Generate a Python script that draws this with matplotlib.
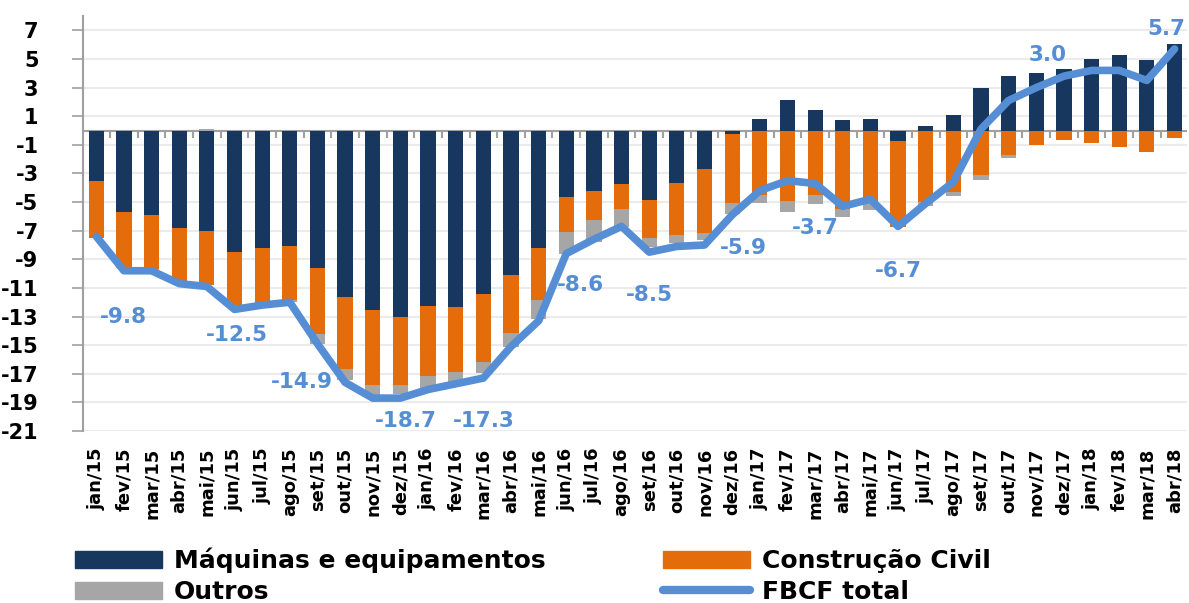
import numpy as np
import matplotlib
matplotlib.use("Agg")
import matplotlib.pyplot as plt
from matplotlib.patches import Patch
from matplotlib.lines import Line2D

meses = ["jan/15", "fev/15", "mar/15", "abr/15", "mai/15", "jun/15", "jul/15", "ago/15",
         "set/15", "out/15", "nov/15", "dez/15", "jan/16", "fev/16", "mar/16", "abr/16",
         "mai/16", "jun/16", "jul/16", "ago/16", "set/16", "out/16", "nov/16", "dez/16",
         "jan/17", "fev/17", "mar/17", "abr/17", "mai/17", "jun/17", "jul/17", "ago/17",
         "set/17", "out/17", "nov/17", "dez/17", "jan/18", "fev/18", "mar/18", "abr/18"]

maquinas = [-3.55, -5.69, -5.92, -6.80, -7.02, -8.48, -8.20, -8.09, -9.60, -11.60,
            -12.55, -13.00, -12.25, -12.30, -11.39, -10.10, -8.20, -4.64, -4.22, -3.71,
            -4.87, -3.66, -2.66, -0.22, 0.78, 2.10, 1.40, 0.76, 0.78, -0.73,
            0.29, 1.06, 2.97, 3.78, 4.04, 4.32, 5.02, 5.30, 4.90, 6.02]

construcao = [-3.93, -3.84, -3.73, -3.78, -3.78, -3.72, -3.78, -3.77, -4.65, -5.10,
              -5.25, -4.78, -4.92, -4.56, -4.78, -4.04, -3.66, -2.44, -2.00, -1.74,
              -2.61, -3.66, -4.49, -4.88, -4.52, -4.92, -4.48, -5.45, -4.99, -6.01,
              -4.99, -4.29, -3.13, -1.73, -1.04, -0.64, -0.87, -1.15, -1.50, -0.50]

outros = [0.0, -0.10, -0.10, -0.10, 0.10, -0.10, -0.10, -0.10, -0.65, -0.75,
          -0.70, -0.62, -0.83, -0.80, -0.81, -0.96, -1.28, -1.52, -1.56, -1.29,
          -0.65, -0.53, -0.47, -0.70, -0.54, -0.77, -0.67, -0.59, -0.58, 0.0,
          -0.30, -0.31, -0.35, -0.17, 0.0, 0.0, 0.0, 0.0, 0.0, 0.0]

fbcf = [-7.4, -9.8, -9.8, -10.7, -10.9, -12.5, -12.2, -12.0, -14.9, -17.6,
        -18.7, -18.7, -18.1, -17.7, -17.3, -15.1, -13.3, -8.6, -7.6, -6.7,
        -8.5, -8.1, -8.0, -5.9, -4.2, -3.5, -3.7, -5.3, -4.8, -6.7,
        -5.1, -3.6, 0.1, 2.1, 3.0, 3.8, 4.2, 4.2, 3.5, 5.7]

# months with a value label on the line
rotulo_idx = [1, 5, 8, 11, 14, 17, 20, 23, 26, 29, 34, 39]
rotulo_dx = [0.0, 0.1, -0.55, 0.2, 0.0, 0.5, 0.0, 0.4, 0.0, 0.0, 0.4, -0.3]
rotulo_dy = [-3.2, -1.8, -2.7, -1.6, -3.0, -2.2, -3.0, -2.3, -3.1, -3.1, 2.25, 1.4]

c_maq = "#17375E"
c_con = "#E46C0A"
c_out = "#A6A6A6"
c_lin = "#558ED5"

x = np.arange(len(meses))

fig = plt.figure(figsize=(11.89, 6.03), dpi=100)
ax = fig.add_axes([0.0698, 0.2852, 0.9285, 0.6882])

# stack positives and negatives separately
pos = np.zeros(len(x))
neg = np.zeros(len(x))
for serie, cor in [(maquinas, c_maq), (construcao, c_con), (outros, c_out)]:
    v = np.array(serie)
    base = np.where(v >= 0, pos, neg)
    ax.bar(x, v, bottom=base, width=0.55, color=cor, zorder=2)
    pos = pos + np.where(v >= 0, v, 0)
    neg = neg + np.where(v < 0, v, 0)

ax.plot(x, fbcf, color=c_lin, lw=5.5, solid_joinstyle="round", solid_capstyle="round", zorder=3)

for i, dx, dy in zip(rotulo_idx, rotulo_dx, rotulo_dy):
    ax.text(x[i] + dx, fbcf[i] + dy, f"{fbcf[i]:.1f}", color=c_lin, fontsize=15.5,
            fontweight="bold", ha="center", va="center", zorder=4)

ax.set_ylim(-21, 8)
ax.set_xlim(-0.48, 39.45)
ax.set_yticks(np.arange(-21, 8, 2))
ax.set_yticklabels([str(v) for v in range(-21, 8, 2)])
ax.yaxis.grid(True, color="#EBEBEB", lw=1.5, zorder=0)
ax.axhline(0, color="#A0A0A0", lw=1.5, zorder=1)

ax.set_xticks(x)
ax.set_xticklabels(meses, rotation=90, fontsize=13, fontweight="bold")
ax.tick_params(axis="x", length=0, pad=12)
ax.tick_params(axis="y", labelsize=15, length=8, width=1.2, color="#A0A0A0", pad=24)
for t in ax.get_yticklabels():
    t.set_fontweight("bold")

for s in ["top", "right", "bottom"]:
    ax.spines[s].set_visible(False)
ax.spines["left"].set_color("#A0A0A0")
ax.spines["left"].set_linewidth(1.5)

# small tick marks between bars along the zero line
sec = ax.secondary_xaxis(21 / 29)
sec.set_xticks(x[:-1] + 0.5)
sec.tick_params(axis="x", direction="out", length=5, width=1.5, color="#A0A0A0", labelbottom=False, labeltop=False)
sec.spines["bottom"].set_visible(False)
sec.spines["top"].set_visible(False)
sec.xaxis.set_ticks_position("bottom")
sec.set_xticklabels([])

handles = [Patch(color=c_maq), Patch(color=c_out), Patch(color=c_con),
           Line2D([0], [0], color=c_lin, lw=6, solid_capstyle="round")]
labels = ["Máquinas e equipamentos", "Outros", "Construção Civil", "FBCF total"]
fig.legend(handles, labels, ncol=2, loc="upper left", bbox_to_anchor=(0.063, 0.092),
           frameon=False, prop={"size": 18, "weight": "bold"}, handlelength=3.5,
           handleheight=0.65, handletextpad=0.45, columnspacing=4.7, labelspacing=0.28,
           borderpad=0, borderaxespad=0)

fig.savefig("out.png", dpi=100)
